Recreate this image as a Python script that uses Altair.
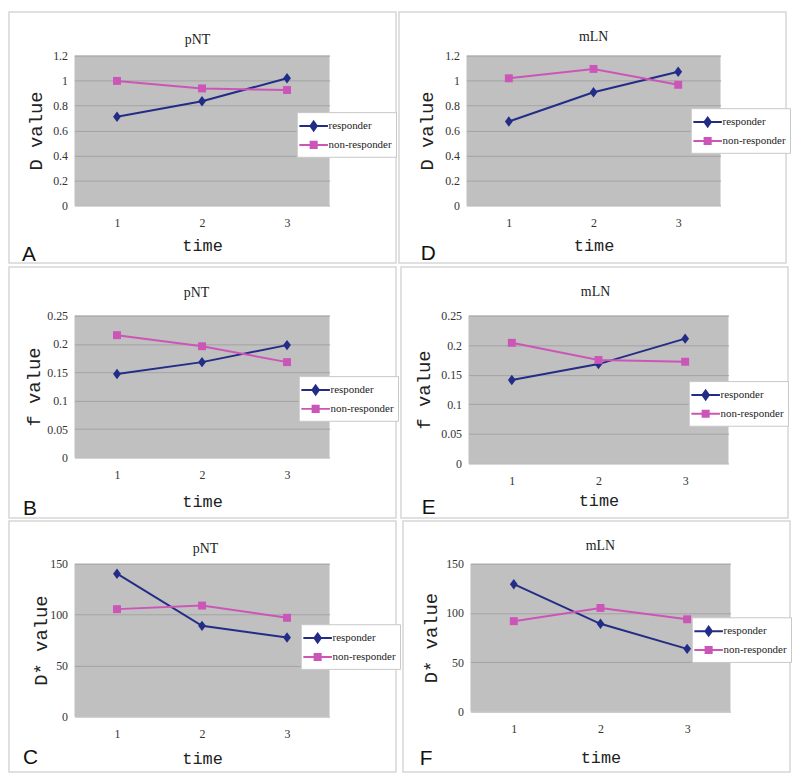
import altair as alt
import pandas as pd

time = [1, 2, 3]
series = ["responder", "non-responder"]
colors = ["#232c86", "#cc55b8"]

pNT_D_resp = [0.71, 0.834, 1.019]
pNT_D_non = [0.997, 0.937, 0.924]
mLN_D_resp = [0.672, 0.906, 1.07]
mLN_D_non = [1.018, 1.093, 0.966]
pNT_f_resp = [0.147, 0.168, 0.198]
pNT_f_non = [0.2155, 0.196, 0.168]
mLN_f_resp = [0.141, 0.168, 0.211]
mLN_f_non = [0.204, 0.175, 0.172]
pNT_Ds_resp = [140.2, 89.0, 77.6]
pNT_Ds_non = [105.4, 108.9, 96.9]
mLN_Ds_resp = [129.2, 89.0, 63.6]
mLN_Ds_non = [91.7, 105.1, 93.6]

ticks_D = [0, 0.2, 0.4, 0.6, 0.8, 1, 1.2]
ticks_f = [0, 0.05, 0.1, 0.15, 0.2, 0.25]
ticks_Ds = [0, 50, 100, 150]

DIAMOND = "M0,-1L0.75,0L0,1L-0.75,0Z"
LEG_PATHS = [
    "M-1.6,0H1.6M0,-0.5L0.36,0L0,0.5L-0.36,0Z",
    "M-1.6,0H1.6M-0.34,-0.34H0.34V0.34H-0.34Z",
]

PW, PH = 392, 255

IND = dict(fill="independent", stroke="independent", shape="independent")


def panel(title, ytitle, ymax, ticks, resp, non, letter, L, T, W, H,
          lx, ly, tx, ty, ytx, xty, ltx, lty):
    df = pd.DataFrame({
        "time": time * 2,
        "value": resp + non,
        "series": ["responder"] * 3 + ["non-responder"] * 3,
    })
    x = alt.X("time:Q", scale=alt.Scale(domain=[0.5, 3.5], nice=False),
              axis=alt.Axis(values=time, title="time", grid=False, ticks=False,
                            domain=False, labelExpr="datum.value + ''",
                            labelPadding=12, titleY=xty, titleBaseline="middle"))
    y = alt.Y("value:Q", scale=alt.Scale(domain=[0, ymax], nice=False, zero=True),
              axis=alt.Axis(values=ticks, title=ytitle, ticks=False, domain=False,
                            grid=True, labelExpr="datum.value + ''",
                            labelPadding=7, titleX=ytx, titleY=H / 2,
                            titleBaseline="middle"))
    base = alt.Chart(df)
    rbase = base.transform_filter("datum.series == 'responder'")
    nbase = base.transform_filter("datum.series == 'non-responder'")
    frame = alt.Chart(pd.DataFrame({"a": [0]})).mark_rect(
        fill="transparent", stroke="#d6d6d6", strokeWidth=1.5
    ).encode(x=alt.value(-L + 1), x2=alt.value(PW - L - 1), y=alt.value(-T + 1),
             y2=alt.value(PH - T - 1))
    lr = rbase.mark_line(strokeWidth=2, color=colors[0]).encode(x=x, y=y)
    ln = nbase.mark_line(strokeWidth=2, color=colors[1]).encode(x=x, y=y)
    pr = rbase.mark_point(
        filled=True, shape=DIAMOND, size=110, color=colors[0], opacity=1
    ).encode(x=x, y=y)
    pn = nbase.mark_point(
        filled=True, shape="square", size=64, color=colors[1], opacity=1
    ).encode(x=x, y=y)
    leg = alt.Legend(orient="none", legendX=lx, legendY=ly, title=None,
                     fillColor="white", strokeColor="#c8c8c8", padding=4,
                     labelFont="Liberation Serif", labelFontSize=11,
                     labelColor="#222222", symbolSize=324, symbolStrokeWidth=2,
                     symbolOffset=3, labelOffset=5, rowPadding=0)
    lbase = base.transform_calculate(far="datum.time + 100")
    xf = alt.X("far:Q", scale=alt.Scale(domain=[0.5, 3.5], nice=False))
    legend_layer = lbase.mark_point(filled=True, opacity=1, clip=True).encode(
        x=xf, y=y,
        fill=alt.Fill("series:N", scale=alt.Scale(domain=series, range=colors), legend=leg),
        stroke=alt.Stroke("series:N", scale=alt.Scale(domain=series, range=colors), legend=leg),
        shape=alt.Shape("series:N", scale=alt.Scale(domain=series, range=LEG_PATHS), legend=leg),
    )
    ttl = alt.Chart(pd.DataFrame({"t": [title]})).mark_text(
        font="Liberation Serif", fontSize=14, color="#222222", baseline="middle"
    ).encode(text="t:N", x=alt.value(tx), y=alt.value(ty))
    let = alt.Chart(pd.DataFrame({"t": [letter]})).mark_text(
        font="Liberation Sans", fontSize=21, color="#111111", baseline="alphabetic",
        align="left"
    ).encode(text="t:N", x=alt.value(ltx), y=alt.value(H + lty))
    return alt.layer(frame, lr, ln, pr, pn, legend_layer, ttl, let).properties(
        width=W, height=H)


A = panel("pNT", "D value", 1.2, ticks_D, pNT_D_resp, pNT_D_non, "A",
          67, 45, 257, 151, 224, 57, 124, -16, -39, 40, -53, 56)
D = panel("mLN", "D value", 1.2, ticks_D, mLN_D_resp, mLN_D_non, "D",
          69, 45, 256, 151, 226, 53, 128, -19, -40, 40, -46, 55)
B = panel("pNT", "f value", 0.25, ticks_f, pNT_f_resp, pNT_f_non, "B",
          67, 50, 257, 143, 226, 61, 123, -23, -41, 44, -52, 58)
E = panel("mLN", "f value", 0.25, ticks_f, mLN_f_resp, mLN_f_non, "E",
          69, 50, 262, 149, 222, 66, 128, -24, -45, 37, -47, 51)
C = panel("pNT", "D* value", 150, ticks_Ds, pNT_Ds_resp, pNT_Ds_non, "C",
          67, 44, 257, 154, 228, 61, 132, -15, -34, 42, -52, 48)
F = panel("mLN", "D* value", 150, ticks_Ds, mLN_Ds_resp, mLN_Ds_non, "F",
          69, 44, 262, 149, 223, 54, 131, -18, -40, 46, -51, 54)


def row(a, b):
    return alt.hconcat(a, b, spacing=1).resolve_scale(**IND).resolve_legend(**IND)


chart = alt.vconcat(
    row(A, D), row(B, E), row(C, F), spacing=1,
).resolve_scale(**IND).resolve_legend(**IND).configure_view(
    fill="#c0c0c0", strokeWidth=0
).configure_axis(
    labelFont="Liberation Serif", labelFontSize=12, labelColor="#333333",
    titleFont="Liberation Mono", titleFontWeight="normal", titleColor="#222222",
    gridColor="#a3a3a3", gridWidth=1,
).configure_axisY(
    titleFontSize=19
).configure_axisX(
    titleFontSize=17
).configure_legend(
    labelFont="Liberation Serif", labelFontSize=11
).properties(background="white", padding=0)

chart.save("out.html", embed_options={"renderer": "svg", "actions": False})
